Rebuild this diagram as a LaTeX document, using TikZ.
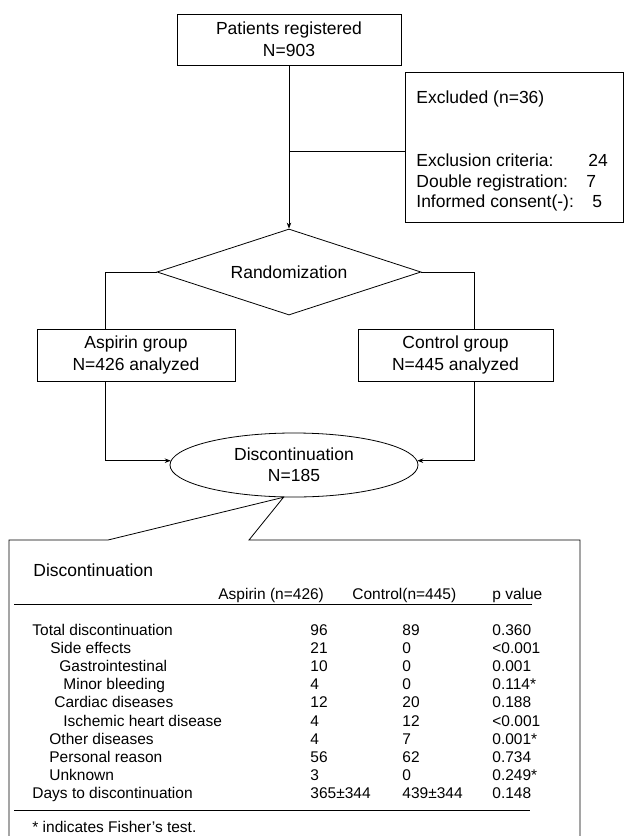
\documentclass[tikz,border=0pt]{standalone}
\usepackage{fontspec}
\setmainfont{Liberation Sans}
\usetikzlibrary{shapes.geometric,arrows.meta,calc}

\begin{document}
\begin{tikzpicture}[x=1pt,y=-1pt,
  line width=0.8pt,
  box/.style={draw, rectangle, inner sep=0pt, align=center, font=\fontsize{17.5}{22}\selectfont},
  lbl/.style={anchor=base west, inner sep=0pt, font=\fontsize{17.5}{21}\selectfont},
  tbl/.style={anchor=base west, inner sep=0pt, font=\fontsize{15.5}{18}\selectfont},
  arr/.style={-{Stealth[length=6pt,width=4.5pt]}},
]
\useasboundingbox (0,0) rectangle (624,836);

% top box
\node[box, minimum width=224pt, minimum height=51pt] (reg) at (289,39.5) {Patients registered\\N=903};

% excluded box
\node[draw, rectangle, minimum width=218pt, minimum height=150pt, inner sep=0pt] (excl) at (514,147) {};
\node[lbl] (exT) at (416,103) {Excluded (n=36)};
\node[lbl] (exA) at (416,166) {Exclusion criteria:};
\node[lbl] (exB) at (416,187) {Double registration:};
\node[lbl] (exC) at (416,207) {Informed consent(-):};
\node[lbl] (exAn) at (588,166) {24};
\node[lbl] (exBn) at (586,187) {7};
\node[lbl] (exCn) at (592,207) {5};

% randomization
\node[draw, diamond, aspect=3, minimum width=264pt, minimum height=86pt, inner sep=0pt,
      font=\fontsize{17.5}{21}\selectfont] (rand) at (289,272) {Randomization};

\draw[arr] (reg) -- (rand);
\coordinate (br) at (289,151);
\draw (br) -- (br -| excl.west);

% groups
\node[box, minimum width=198pt, minimum height=52pt] (asp) at (136,355) {Aspirin group\\N=426 analyzed};
\node[box, minimum width=195pt, minimum height=52pt] (ctl) at (455.5,355) {Control group\\N=445 analyzed};
\coordinate (lx) at (105,0);
\coordinate (rx) at (474,0);
\draw (rand.west) -| (asp.north -| lx);
\draw (rand.east) -| (ctl.north -| rx);

% discontinuation ellipse
\node[draw, ellipse, minimum width=248pt, minimum height=64pt, inner sep=0pt, align=center,
      font=\fontsize{17.5}{21}\selectfont] (ell) at (294,465) {Discontinuation\\N=185};
\draw[arr] (asp.south -| lx) |- (ell.178);
\draw[arr] (ctl.south -| rx) |- (ell.2);

% callout table box
\coordinate (tTL) at (9,540);
\coordinate (tTR) at (580,540);
\coordinate (tBL) at (9,842);
\coordinate (tBR) at (580,842);
\coordinate (ca) at (108,540);
\coordinate (cb) at (249,540);
\draw (ca) -- (ell.252) -- (cb) -- (tTR) -- (tBR) -- (tBL) -- (tTL) -- cycle;

% table
\node[lbl] (ttitle) at (33,576) {Discontinuation};
\node[tbl] (hA) at (218,599) {Aspirin (n=426)};
\node[tbl] (hC) at (352,599) {Control(n=445)};
\node[tbl] (hP) at (492,599) {p value};
\coordinate (r1a) at (14,604);
\coordinate (r1b) at (532,604);
\draw (r1a) -- (r1b);

\foreach \lab/\ind/\va/\vb/\pv [count=\i] in {
  Total discontinuation/32/96/89/0.360,
  Side effects/50/21/0/\textless0.001,
  Gastrointestinal/59/10/0/0.001,
  Minor bleeding/63/4/0/0.114*,
  Cardiac diseases/54/12/20/0.188,
  Ischemic heart disease/63/4/12/\textless0.001,
  Other diseases/49/4/7/0.001*,
  Personal reason/49/56/62/0.734,
  Unknown/49/3/0/0.249*,
  Days to discontinuation/32/365±344/439±344/0.148} {
  \pgfmathsetmacro\yy{635.5+18.1*(\i-1)}
  \node[tbl] (rl\i) at (\ind,\yy) {\lab};
  \node[tbl] (ra\i) at (310,\yy) {\va};
  \node[tbl] (rb\i) at (402,\yy) {\vb};
  \node[tbl] (rp\i) at (492,\yy) {\pv};
}

\coordinate (r2a) at (14,810);
\coordinate (r2b) at (530,810);
\draw (r2a) -- (r2b);
\node[tbl] (fn) at (32,832) {* indicates Fisher's test.};
\end{tikzpicture}
\end{document}
